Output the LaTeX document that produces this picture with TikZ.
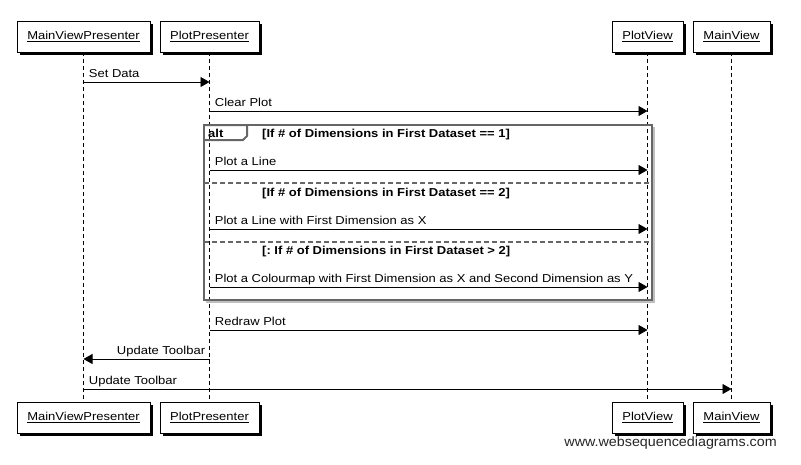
\documentclass[tikz,border=0pt]{standalone}
\usepackage{fontspec}
\setmainfont[FakeStretch=1.13]{Liberation Sans}
\newfontfamily\wmfont[FakeStretch=1.06]{Liberation Sans}
\usetikzlibrary{arrows.meta,shadows}
\begin{document}
\frenchspacing
\begin{tikzpicture}[x=1pt,y=-1pt,
  font=\fontsize{11.5}{14}\selectfont,
  actor/.style={draw=black, line width=0.8pt, fill=white, minimum height=31pt, inner sep=0pt,
     drop shadow={shadow xshift=2.5pt, shadow yshift=-2.5pt, fill=black, opacity=1}},
  life/.style={dashed, dash pattern=on 4pt off 3pt, line width=0.8pt},
  msg/.style={line width=0.8pt, -{Triangle[length=9pt,width=10pt]}},
  lblr/.style={inner sep=0pt, pos=0, anchor=base west, xshift=5pt, yshift=4.5pt},
  lbll/.style={inner sep=0pt, pos=0, anchor=base east, xshift=-4pt, yshift=4.5pt},
  frm/.style={draw=black!60, line width=2pt},
  guard/.style={font=\fontsize{11.5}{14}\selectfont\bfseries, inner sep=0pt, anchor=base west}
]
\useasboundingbox (0,0) rectangle (801,464);
\fill[white] (0,0) rectangle (801,464);
% top actors
\node[actor, minimum width=133pt] (mvp) at (83.5,36.5) {\underline{MainViewPresenter}};
\node[actor, minimum width=99pt] (pp) at (209.5,36.5) {\underline{PlotPresenter}};
\node[actor, minimum width=71pt] (pv) at (647.5,36.5) {\underline{PlotView}};
\node[actor, minimum width=77pt] (mv) at (731.5,36.5) {\underline{MainView}};
% bottom actors
\node[actor, minimum width=133pt] (mvpb) at (83.5,417.5) {\underline{MainViewPresenter}};
\node[actor, minimum width=99pt] (ppb) at (209.5,417.5) {\underline{PlotPresenter}};
\node[actor, minimum width=71pt] (pvb) at (647.5,417.5) {\underline{PlotView}};
\node[actor, minimum width=77pt] (mvb) at (731.5,417.5) {\underline{MainView}};
% lifelines
\draw[life] (mvp.south) -- (mvpb.north);
\draw[life] (pp.south) -- (ppb.north);
\draw[life] (pv.south) -- (pvb.north);
\draw[life] (mv.south) -- (mvb.north);
% alt frame
\draw[black!25, line width=2pt] (206,302) -- (654,302) -- (654,127);
\draw[frm] (204,125) rectangle (652,300);
\draw[frm, line join=round] (204,125) -- (247,125) -- (247,136) -- (243,140) -- (204,140);
\node[guard] (alt) at (208,137.5) {alt};
\node[guard] (g1) at (262,137.5) {[If \# of Dimensions in First Dataset == 1]};
\draw[frm, dash pattern=on 5pt off 3pt] (204,183) -- (652,183);
\node[guard] (g2) at (262,196) {[If \# of Dimensions in First Dataset == 2]};
\draw[frm, dash pattern=on 5pt off 3pt] (204,242) -- (652,242);
\node[guard] (g3) at (262,254.5) {[: If \# of Dimensions in First Dataset > 2]};
% messages
\draw[msg] (mvp.south |- 0,82) -- node[lblr] (m1) {Set Data} (pp.south |- 0,82);
\draw[msg] (pp.south |- 0,111) -- node[lblr] (m2) {Clear Plot} (pv.south |- 0,111);
\draw[msg] (pp.south |- 0,170) -- node[lblr] (m3) {Plot a Line} (pv.south |- 0,170);
\draw[msg] (pp.south |- 0,229) -- node[lblr] (m4) {Plot a Line with First Dimension as X} (pv.south |- 0,229);
\draw[msg] (pp.south |- 0,287) -- node[lblr] (m5) {Plot a Colourmap with First Dimension as X and Second Dimension as Y} (pv.south |- 0,287);
\draw[msg] (pp.south |- 0,330) -- node[lblr] (m6) {Redraw Plot} (pv.south |- 0,330);
\draw[msg] (pp.south |- 0,359) -- node[lbll] (m7) {Update Toolbar} (mvp.south |- 0,359);
\draw[msg] (mvp.south |- 0,389) -- node[lblr] (m8) {Update Toolbar} (mv.south |- 0,389);
% watermark
\node[anchor=base east, inner sep=0pt, font=\wmfont\fontsize{13.5}{16}\selectfont, text=black!85] (wm) at (777,446.5) {www.websequencediagrams.com};
\end{tikzpicture}
\end{document}
